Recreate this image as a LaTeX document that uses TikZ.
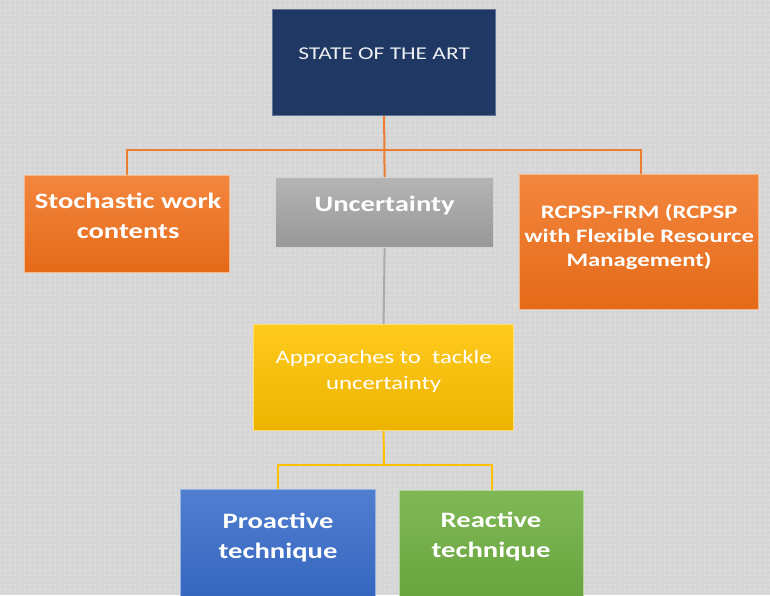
\documentclass[tikz,border=0pt]{standalone}
\usepackage{fontspec}
\setmainfont{Carlito}[FakeStretch=1.3]
\usetikzlibrary{patterns.meta,calc}
\definecolor{navy}{RGB}{32,56,100}
\definecolor{orA}{RGB}{243,134,62}
\definecolor{orB}{RGB}{228,106,24}
\definecolor{grA}{RGB}{180,180,180}
\definecolor{grB}{RGB}{152,152,152}
\definecolor{yeA}{RGB}{255,202,30}
\definecolor{yeB}{RGB}{236,180,0}
\definecolor{blA}{RGB}{80,126,208}
\definecolor{blB}{RGB}{50,98,188}
\definecolor{gnA}{RGB}{128,184,86}
\definecolor{gnB}{RGB}{100,162,58}
\definecolor{lineor}{RGB}{237,125,49}
\definecolor{linegr}{RGB}{170,170,170}
\definecolor{lineye}{RGB}{255,192,0}
\definecolor{bg}{RGB}{214,214,214}
\begin{document}
\begin{tikzpicture}[x=1pt,y=-1pt,
  box/.style={rectangle,inner sep=0pt,anchor=north west,line width=1.2pt},
  txt/.style={text=white,align=center,font=\fontsize{22}{30}\selectfont\bfseries},
  txtn/.style={text=white,align=center,font=\fontsize{18}{26}\selectfont},
  conor/.style={draw=lineor,line width=2pt},
  congr/.style={draw=linegr,line width=2pt},
  conye/.style={draw=lineye,line width=2pt}]
\clip (0,0) rectangle (770,595);
\useasboundingbox (0,0) rectangle (770,595);
\fill[bg] (0,0) rectangle (770,595);
\fill[pattern={Dots[distance=5pt,radius=0.7pt]},pattern color=white!92!bg] (0,0) rectangle (770,595);

% boxes
\node[box,minimum width=223,minimum height=106,fill=navy,draw=navy!70!white] (state) at (272,9) {};
\node[box,minimum width=205,minimum height=97,top color=orA,bottom color=orB,draw=orA!60!white] (stoch) at (24,175) {};
\node[box,minimum width=218,minimum height=70,top color=grA,bottom color=grB,draw=grA!60!white] (unc) at (275,177) {};
\node[box,minimum width=239,minimum height=135,top color=orA,bottom color=orB,draw=orA!60!white] (rcpsp) at (519,174) {};
\node[box,minimum width=260,minimum height=106,top color=yeA,bottom color=yeB,draw=yeA!60!white] (appr) at (253,324) {};
\node[box,minimum width=195,minimum height=125,top color=blA,bottom color=blB,draw=blA!60!white] (pro) at (180,489) {};
\node[box,minimum width=184,minimum height=125,top color=gnA,bottom color=gnB,draw=gnA!60!white] (rea) at (399,490) {};

% texts
\node[txtn,text=white!92!navy] (tstate) at ($(state.center)+(0,-9)$) {STATE OF THE ART};
\node[txt] (tstoch) at ($(stoch.center)+(1,-8)$) {Stochastic work\\contents};
\node[txt] (tunc) at ($(unc.center)+(0,-7)$) {Uncertainty};
\node[txt,font=\fontsize{19}{24}\selectfont\bfseries] (trcpsp) at ($(rcpsp.center)+(0,-5)$) {RCPSP-FRM (RCPSP\\with Flexible Resource\\Management)};
\node[txtn,font=\fontsize{19}{26}\selectfont] (tappr) at ($(appr.center)+(0,-6)$) {Approaches to~ tackle\\uncertainty};
\node[txt] (tpro) at (278,537) {Proactive\\technique};
\node[txt] (trea) at (491,536) {Reactive\\technique};

% connectors
\coordinate (busL) at (127,150);
\coordinate (busR) at (641,150);
\draw[conor] (state.south) -- (unc.north);
\draw[conor] (stoch.north -| busL) -- (busL) -- (busR) -- (rcpsp.north -| busR);
\draw[congr] (unc.south) -- (appr.north);
\coordinate (ybus) at (384,465);
\draw[conye] (appr.south) -- (ybus);
\draw[conye] (pro.north) |- (ybus) -| (rea.north);
\end{tikzpicture}
\end{document}
